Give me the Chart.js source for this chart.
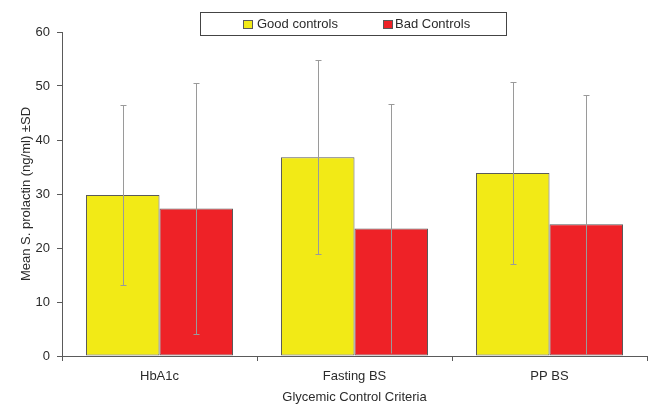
<!DOCTYPE html>
<html>
<head>
<meta charset="utf-8">
<script src="https://cdn.jsdelivr.net/npm/chart.js@4/dist/chart.umd.min.js"></script>
<style>
  html, body { margin: 0; padding: 0; background: #ffffff; }
  #wrap { width: 652px; height: 405px; position: relative; }
</style>
</head>
<body>
<div id="wrap"><canvas id="c" width="652" height="405"></canvas></div>
<script>
const categories = ["HbA1c", "Fasting BS", "PP BS"];
const seriesNames = ["Good controls", "Bad Controls"];
const goodMeans = [29.8, 36.8, 33.9];
const goodSD = [16.7, 18.0, 16.8];
const badMeans = [27.3, 23.6, 24.4];
const badSD = [23.3, 23.1, 24.0];
const yTicks = [0, 10, 20, 30, 40, 50, 60];

const yellow = "#F2EA16";
const red = "#EE2227";
const edge = "#5a5a5a";
const textColor = "#2b2b2b";
const FONT = "'Liberation Sans', Arial, sans-serif";

const errorBars = {
  id: "errorBars",
  afterDatasetsDraw(chart) {
    const ctx = chart.ctx;
    const y = chart.scales.y;
    ctx.save();
    ctx.strokeStyle = "#9a9a9a";
    ctx.lineWidth = 1;
    chart.data.datasets.forEach((ds, di) => {
      const meta = chart.getDatasetMeta(di);
      meta.data.forEach((bar, i) => {
        const m = ds.data[i], sd = ds.sd[i];
        const x = Math.round(bar.x) + 0.5;
        const yt = Math.round(y.getPixelForValue(m + sd)) + 0.5;
        const yb = Math.round(y.getPixelForValue(Math.max(0, m - sd))) + 0.5;
        ctx.beginPath();
        ctx.moveTo(x, yt); ctx.lineTo(x, yb);
        ctx.moveTo(x - 3, yt); ctx.lineTo(x + 3, yt);
        if (m - sd > 0.8) { ctx.moveTo(x - 3, yb); ctx.lineTo(x + 3, yb); }
        ctx.stroke();
      });
    });
    ctx.restore();
  }
};

const boxLegend = {
  id: "boxLegend",
  afterDraw(chart) {
    const ctx = chart.ctx;
    ctx.save();
    ctx.strokeStyle = "#444";
    ctx.lineWidth = 1;
    ctx.strokeRect(200.5, 12.5, 306, 23);
    ctx.font = "13px " + FONT;
    ctx.textBaseline = "middle";
    ctx.fillStyle = textColor;
    const items = [
      { sx: 243, tx: 257, ds: chart.data.datasets[0] },
      { sx: 383, tx: 395, ds: chart.data.datasets[1] }
    ];
    items.forEach(it => {
      ctx.fillStyle = it.ds.backgroundColor;
      ctx.fillRect(it.sx + 0.5, 20.5, 9, 8);
      ctx.strokeStyle = edge;
      ctx.strokeRect(it.sx + 0.5, 20.5, 9, 8);
      ctx.fillStyle = textColor;
      ctx.fillText(it.ds.label, it.tx, 24.5);
    });
    ctx.restore();
  }
};

new Chart(document.getElementById("c"), {
  type: "bar",
  data: {
    labels: categories,
    datasets: [
      { label: seriesNames[0], data: goodMeans, sd: goodSD, backgroundColor: yellow, borderColor: edge, borderWidth: 1, borderSkipped: false },
      { label: seriesNames[1], data: badMeans, sd: badSD, backgroundColor: red, borderColor: edge, borderWidth: 1, borderSkipped: false }
    ]
  },
  options: {
    responsive: false,
    animation: false,
    devicePixelRatio: 1,
    layout: { padding: { top: 32, right: 5, bottom: 0, left: 0 } },
    datasets: { bar: { categoryPercentage: 0.754, barPercentage: 1.0 } },
    plugins: { legend: { display: false }, tooltip: { enabled: false } },
    scales: {
      x: {
        offset: true,
        grid: { display: true, drawOnChartArea: false, drawTicks: true, tickLength: 5, color: edge, offset: true },
        border: { display: true, color: edge, width: 1 },
        ticks: { color: textColor, font: { family: FONT, size: 13 }, padding: 8 },
        title: { display: true, text: "Glycemic Control Criteria", color: textColor, font: { family: FONT, size: 13 }, padding: { top: 2, bottom: 0 } },
        afterFit(s) { s.height = 49; }
      },
      y: {
        min: 0, max: 60,
        afterBuildTicks(s) { s.ticks = yTicks.map(v => ({ value: v })); },
        grid: { display: true, drawOnChartArea: false, drawTicks: true, tickLength: 5, color: edge },
        border: { display: true, color: edge, width: 1 },
        ticks: { color: textColor, font: { family: FONT, size: 13 }, padding: 7 },
        title: { display: true, text: "Mean S. prolactin (ng/ml) ±SD", color: textColor, font: { family: FONT, size: 13 }, padding: { top: 19, bottom: 0 } },
        afterFit(s) { s.width = 62; }
      }
    }
  },
  plugins: [errorBars, boxLegend]
});
</script>
</body>
</html>
